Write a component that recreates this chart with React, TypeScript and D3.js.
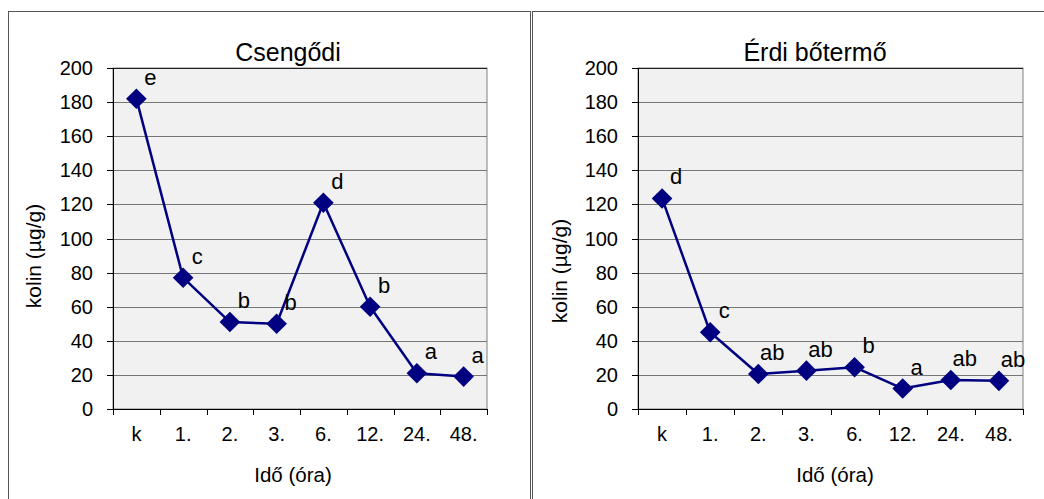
import React from "react";
import * as d3 from "d3";

const categories = ["k", "1.", "2.", "3.", "6.", "12.", "24.", "48."];
const yTicks = [0, 20, 40, 60, 80, 100, 120, 140, 160, 180, 200];

const csengodiValues = [182, 77, 51, 50, 121, 60, 21, 19];
const csengodiLetters = ["e", "c", "b", "b", "d", "b", "a", "a"];

const erdiValues = [123.5, 45, 20.5, 22.5, 24.5, 12, 17, 16.5];
const erdiLetters = ["d", "c", "ab", "ab", "b", "a", "ab", "ab"];

const FONT = "'Liberation Sans', Arial, Helvetica, sans-serif";
const NAVY = "#000080";

type PanelProps = {
  title: string;
  values: number[];
  letters: string[];
  frameX: number;
  frameW: number;
  plotLeft: number;
  plotRight: number;
  titleX: number;
  yTitleX: number;
  yTitleY: number;
  xTitleX: number;
};

const plotTop = 68;
const plotBottom = 409;

function Panel(p: PanelProps) {
  const x = d3.scaleBand<string>().domain(categories).range([p.plotLeft, p.plotRight]).padding(0);
  const y = d3.scaleLinear().domain([0, 200]).range([plotBottom, plotTop]);
  const cx = (c: string) => (x(c) as number) + x.bandwidth() / 2;
  const line = d3
    .line<number>()
    .x((_, i) => cx(categories[i]))
    .y((v) => y(v));
  const boundaries = categories.map((c) => x(c) as number).concat([p.plotRight]);
  const r = 10.3;
  return (
    <g>
      <rect x={p.frameX + 0.5} y={11.5} width={p.frameW} height={520} fill="#fff" stroke="#555" strokeWidth={1} />
      <rect x={p.plotLeft} y={plotTop} width={p.plotRight - p.plotLeft} height={plotBottom - plotTop} fill="#f1f1f1" stroke="#808080" strokeWidth={1} />
      {yTicks.filter((t) => t > 0).map((t) => (
        <line key={"g" + t} x1={p.plotLeft} x2={p.plotRight} y1={Math.round(y(t)) + 0.5} y2={Math.round(y(t)) + 0.5} stroke={t === 200 ? "#222" : "#777"} strokeWidth={1} />
      ))}
      {yTicks.map((t) => (
        <g key={"t" + t}>
          <line x1={p.plotLeft - 6} x2={p.plotLeft} y1={Math.round(y(t)) + 0.5} y2={Math.round(y(t)) + 0.5} stroke="#000" />
          <text x={p.plotLeft - 20} y={y(t) + 7} textAnchor="end" fontSize={20} fontFamily={FONT} fill="#000">
            {t}
          </text>
        </g>
      ))}
      <line x1={p.plotLeft + 0.5} x2={p.plotLeft + 0.5} y1={plotTop} y2={plotBottom} stroke="#000" />
      <line x1={p.plotLeft} x2={p.plotRight} y1={plotBottom + 0.5} y2={plotBottom + 0.5} stroke="#000" />
      {boundaries.map((b, i) => (
        <line key={"xt" + i} x1={Math.round(b) + 0.5} x2={Math.round(b) + 0.5} y1={plotBottom} y2={plotBottom + 6} stroke="#000" />
      ))}
      {categories.map((c) => (
        <text key={"xl" + c} x={cx(c)} y={441} textAnchor="middle" fontSize={20} fontFamily={FONT} fill="#000">
          {c}
        </text>
      ))}
      <path d={line(p.values) || ""} fill="none" stroke={NAVY} strokeWidth={2.5} strokeLinejoin="round" />
      {p.values.map((v, i) => {
        const px = cx(categories[i]);
        const py = y(v);
        return (
          <path key={"m" + i} d={`M${px},${py - r}L${px + r},${py}L${px},${py + r}L${px - r},${py}Z`} fill={NAVY} />
        );
      })}
      {p.values.map((v, i) => (
        <text key={"lab" + i} x={cx(categories[i]) + 14} y={y(v) - 14} textAnchor="middle" fontSize={22} fontFamily={FONT} fill="#000">
          {p.letters[i]}
        </text>
      ))}
      <text x={p.titleX} y={61} textAnchor="middle" fontSize={25} fontFamily={FONT} fill="#000">
        {p.title}
      </text>
      <text transform={`translate(${p.yTitleX},${p.yTitleY}) rotate(-90)`} textAnchor="middle" fontSize={21} fontFamily={FONT} fill="#000">
        kolin (µg/g)
      </text>
      <text x={p.xTitleX} y={482} textAnchor="middle" fontSize={20.5} fontFamily={FONT} fill="#000">
        Idő (óra)
      </text>
    </g>
  );
}

export default function App() {
  return (
    <svg width={1044} height={499} style={{ position: "absolute", left: 0, top: 0, background: "#fff" }}>
      <rect x={0} y={0} width={1044} height={499} fill="#fff" />
      <Panel
        title="Csengődi"
        values={csengodiValues}
        letters={csengodiLetters}
        frameX={8}
        frameW={522}
        plotLeft={113}
        plotRight={487}
        titleX={288}
        yTitleX={41}
        yTitleY={256}
        xTitleX={293}
      />
      <Panel
        title="Érdi bőtermő"
        values={erdiValues}
        letters={erdiLetters}
        frameX={532}
        frameW={540}
        plotLeft={638}
        plotRight={1023}
        titleX={815}
        yTitleX={567}
        yTitleY={271}
        xTitleX={835}
      />
    </svg>
  );
}
